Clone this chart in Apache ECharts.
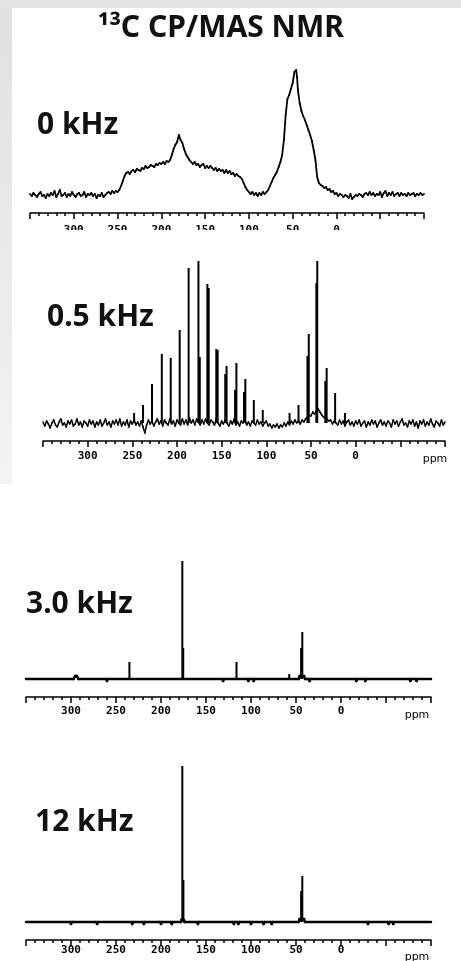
<!DOCTYPE html>
<html><head><meta charset="utf-8">
<script src="https://cdn.jsdelivr.net/npm/echarts@6/dist/echarts.min.js"></script>
<style>html,body{margin:0;padding:0;background:#fff}#c{width:461px;height:961px}</style>
</head><body><div id="c"></div>
<script>
// ---------- DATA ----------
const mainTitle = '\u00B9\u00B3C CP/MAS NMR';
const panelLabels = ['0 kHz', '0.5 kHz', '3.0 kHz', '12 kHz'];
const tickLabels = [300, 250, 200, 150, 100, 50, 0];
const unitLabel = 'ppm';

// 0 kHz : static spectrum [ppm, intensity]
const spec0 = [
 [350,1],[348,-1],[346,2],[344,0],[342,-2],[340,1],[338,3],[336,-1],[334,0],[332,-3],[330,1],[328,-1],[326,2],[324,0],[322,4],[320,-2],[318,1],[316,5],[314,-1],[312,0],[310,2],[308,-2],[306,1],[304,-1],[302,3],[300,0],[298,-2],[296,1],[294,2],[292,-1],[290,0],[288,3],[286,-2],[284,1],[282,0],[280,2],[278,-1],[276,1],[274,-3],[272,0],[270,-1],[268,2],[266,-2],[264,0],
 [262,2],[260,3],[258,1],[256,4],[254,2],[252,4],[250,3],[248,5],[246,9],[244,14],[242,19],
 [240,22],[238,23],[236,21],[234,24],[232,25],[230,23],[228,26],[226,25],[224,24],[222,27],[220,26],[218,29],[216,27],[214,28],[212,30],[210,29],[208,28],[206,31],[204,30],[202,32],[200,31],[198,33],[196,31],[194,34],[192,33],[190,35],
 [188,40],[186,46],[184,50],[182,53],[180,60],[178,55],[176,52],[174,46],[172,41],[170,38],[168,35],
 [166,33],[164,31],[162,33],[160,30],[158,31],[156,28],[154,30],[152,31],[150,27],[148,29],[146,27],[144,29],[142,27],[140,25],[138,27],[136,24],[134,26],[132,24],[130,25],[128,22],[126,25],[124,22],[122,24],[120,21],[118,22],[116,19],[114,21],[112,19],[110,18],[108,16],
 [106,12],[104,8],[102,5],[100,3],[98,1],[96,3],[94,0],[92,2],[90,-1],[88,2],[86,0],[84,3],[82,1],[80,3],[78,5],[76,9],[74,13],[72,17],[70,20],[68,23],[66,28],[64,33],[62,40],[60,55],[58,80],[56,96],[54,100],[52,106],[50,112],[48,123],[46,125],[45,118],[44,105],[42,92],[40,84],[38,79],[36,75],[34,70],[32,65],[30,60],[28,54],[26,45],[24,35],[22,18],[20,12],[18,10],[16,9],[14,7],[12,8],[10,5],[8,6],[6,3],[4,4],[2,1],[0,2],
 [-2,-1],[-4,1],[-6,0],[-8,-2],[-10,0],[-12,-1],[-14,-3],[-16,1],[-18,-4],[-20,-2],[-22,0],[-24,-1],[-26,1],[-28,0],[-30,-2],[-32,1],[-34,2],[-36,0],[-38,3],[-40,0],[-42,2],[-44,-1],[-46,1],[-48,0],[-50,3],[-52,-2],[-54,2],[-56,4],[-58,-1],[-60,2],[-62,0],[-64,3],[-66,-1],[-68,1],[-70,2],[-72,-1],[-74,2],[-76,0],[-78,1],[-80,-1],[-82,2],[-84,0],[-86,1],[-88,2],[-90,-1],[-92,1],[-94,0],[-96,2],[-98,0],[-100,1]
];

// 0.5 kHz : baseline noise and spinning-sideband lines
const noise05 = [
 [350,1],[348,-3],[346,2],[344,-1],[342,-5],[340,0],[338,3],[336,-2],[334,-4],[332,1],[330,4],[328,-2],[326,0],[324,-4],[322,2],[320,-1],[318,3],[316,-3],[314,-1],[312,4],[310,-2],[308,1],[306,-4],[304,2],[302,0],[300,-3],[298,3],[296,-1],[294,2],[292,-4],[290,1],[288,-2],[286,3],[284,-3],[282,0],[280,4],[278,-2],[276,1],[274,-4],[272,2],[270,-1],[268,3],[266,-2],[264,4],[262,-3],[260,1],[258,-2],[256,3],[254,-4],[252,2],[250,-1],
 [248,3],[246,-2],[244,1],[242,-3],[240,2],[238,-4],[236,-10],[234,-2],[232,3],[230,-1],[228,2],[226,-3],[224,1],[222,4],[220,-1],[218,2],[216,-3],[214,3],[212,0],[210,-2],[208,4],[206,-1],[204,2],[202,-3],[200,3],[198,0],[196,-2],[194,4],[192,-1],[190,3],[188,-2],[186,5],[184,0],[182,3],[180,-2],[178,4],[176,1],[174,-2],[172,3],[170,-1],[168,4],[166,0],[164,-2],[162,3],[160,1],[158,-2],[156,4],[154,0],[152,-3],[150,2],[148,-1],[146,3],[144,0],[142,-3],[140,2],[138,-1],[136,4],[134,-2],[132,1],[130,-3],[128,2],[126,0],[124,3],[122,-2],[120,1],[118,-3],[116,2],[114,0],[112,-2],[110,3],[108,-1],[106,1],[104,-3],[102,0],[100,2],
 [98,-3],[96,-1],[94,-5],[92,-2],[90,-4],[88,-1],[86,-5],[84,-2],[82,-4],[80,0],[78,-3],[76,1],[74,-2],[72,2],[70,-1],[68,3],[66,0],[64,2],[62,-1],[60,3],[58,1],[56,4],[54,6],[52,8],[50,7],[48,11],[46,9],[44,12],[42,14],[40,11],[38,8],[36,6],[34,5],[32,4],[30,2],[28,3],[26,-1],[24,2],[22,0],[20,-2],[18,3],[16,-1],[14,2],[12,-3],[10,1],[8,3],[6,-2],[4,1],[2,-3],[0,2],
 [-2,-1],[-4,3],[-6,-3],[-8,0],[-10,2],[-12,-4],[-14,1],[-16,-2],[-18,3],[-20,-1],[-22,2],[-24,-4],[-26,0],[-28,3],[-30,-2],[-32,1],[-34,-3],[-36,2],[-38,0],[-40,-4],[-42,3],[-44,-1],[-46,2],[-48,-3],[-50,1],[-52,4],[-54,-2],[-56,0],[-58,-4],[-60,2],[-62,-1],[-64,3],[-66,-3],[-68,1],[-70,-5],[-72,2],[-74,-1],[-76,3],[-78,-3],[-80,1],[-82,-2],[-84,4],[-86,-1],[-88,-4],[-90,2],[-92,0],[-94,-3],[-96,3],[-98,-2],[-100,1]
];
const peaks05 = [
 [248,10],[238,18],[228,39],[217,69],[207,65],[197,93],[187,155],[176,162],[174.5,66],[166,139],[164.5,135],[156,74],[154.5,73],[146,49],[144.5,57],[135,33],[133.5,60],[125,31],[123.5,44],[114,23],[104,13],
 [74,10],[64,18],[54,67],[52.5,89],[44,140],[43,162],[34,42],[32.5,55],[23,30],[12,10]
];

// 3.0 kHz
const base30 = [
 [350,0],[297,0],[295.5,3],[293.5,3],[292,0],[261,0],[260,-2],[259,0],[132,0],[131,-2],[130,0],[104,0],[103,-2],[102,0],[98,0],[97,-2],[96,0],[47,0],[46,3],[41,3],[40,0],[36,0],[35,-2],[34,0],[-16,0],[-17,-2],[-18,0],[-26,0],[-27,-2],[-28,0],[-76,0],[-77,-2],[-78,0],[-83,0],[-84,-2],[-85,0],[-100,0]
];
const peaks30 = [[235.1,17],[176.3,118],[175.3,31],[116.1,17],[57.5,5],[44.3,31],[43.0,47]];

// 12 kHz
const base12 = [
 [350,0],[301,0],[300,-2],[299,0],[272,0],[271,-2],[270,0],[233,0],[232,-2],[231,0],[220,0],[219,-2],[218,0],[201,0],[200,-2],[199,0],[189,0],[188,-2],[187,0],[178,0],[177.5,2],[174.5,2],[174,0],[160,0],[159,-2],[158,0],[120,0],[119,-2],[118,0],[115,0],[114,-2],[113,0],[101,0],[100,-2],[99,0],[87,0],[86,-2],[85,0],[78,0],[77,-2],[76,0],[47,0],[46,3],[41,3],[40,0],[-29,0],[-30,-2],[-31,0],[-52,0],[-53,-2],[-54,0],[-57,0],[-58,-2],[-59,0],[-100,0]
];
const peaks12 = [[176.3,156],[175.1,42],[44.3,31],[43.0,46]];

// ---------- LAYOUT ----------
const W = 461, H = 961;
const panels = [
  {left:30, right:37, axisY:213, top:60,  ymin:-18, labelMargin:12, barW:2, lw:1.8},
  {left:43, right:16, axisY:441, top:250, ymin:-18, labelMargin:10, barW:2, lw:1.5},
  {left:26, right:30, axisY:697, top:550, ymin:-18, labelMargin:9,  barW:2, lw:2.5},
  {left:26, right:30, axisY:940, top:755, ymin:-18, labelMargin:5,  barW:2, lw:2.5}
];

const grid = [], xAxis = [], yAxis = [];
panels.forEach((p, i) => {
  const h = p.axisY - p.top;
  grid.push({left:p.left, right:p.right, top:p.top, bottom:H - p.axisY, containLabel:false});
  xAxis.push({
    type:'value', gridIndex:i, inverse:true, min:-100, max:350, interval:50,
    axisLine:{onZero:false, lineStyle:{color:'#000', width:1.5}},
    axisTick:{show:true, inside:false, length:6, lineStyle:{color:'#000', width:1.5}},
    minorTick:{show:true, splitNumber:5, length:3, lineStyle:{color:'#000', width:1.5}},
    splitLine:{show:false}, minorSplitLine:{show:false},
    axisLabel:{margin:p.labelMargin, color:'#000', fontFamily:'DejaVu Sans Mono', fontWeight:'bold', fontSize:11,
      showMinLabel:true, showMaxLabel:true,
      formatter: v => tickLabels.indexOf(v) >= 0 ? String(v) : ''}
  });
  yAxis.push({type:'value', gridIndex:i, min:p.ymin, max:p.ymin + h, show:false});
});

// trace drawn segment by segment through the axis scales (no point thinning)
const traceSeries = (i, data, w) => ({
  type:'custom', xAxisIndex:i, yAxisIndex:i, data, silent:true, animation:false, z:3,
  encode:{x:0, y:1},
  renderItem: (params, api) => {
    const k = params.dataIndexInside;
    if (k === 0) return null;
    const a = api.coord([api.value(0, k - 1), api.value(1, k - 1)]);
    const b = api.coord([api.value(0, k), api.value(1, k)]);
    return {type:'line', shape:{x1:a[0], y1:a[1], x2:b[0], y2:b[1]},
      style:{stroke:'#000', lineWidth:w, lineCap:'round'}};
  }
});
const barSeries = (i, data, w) => ({
  type:'bar', xAxisIndex:i, yAxisIndex:i, data, barWidth:w,
  itemStyle:{color:'#000'}, silent:true, animation:false, z:4
});

const series = [
  traceSeries(0, spec0, panels[0].lw),
  traceSeries(1, noise05, panels[1].lw), barSeries(1, peaks05, panels[1].barW),
  traceSeries(2, base30, panels[2].lw),  barSeries(2, peaks30, panels[2].barW),
  traceSeries(3, base12, panels[3].lw),  barSeries(3, peaks12, panels[3].barW)
];

const titleFont = 'bold 30px "Noto Sans"';
const labelPos = [[37,125],[47,317],[26,604],[35,822]];
const unitPos = [[435,459],[417,715],[417,957]];

const graphic = [
  {type:'rect', shape:{x:0, y:0, width:W, height:8}, style:{fill:'#e3e3e3'}, z:0, silent:true},
  {type:'rect', shape:{x:0, y:8, width:12, height:476}, silent:true, z:0,
    style:{fill:new echarts.graphic.LinearGradient(0,0,0,1,[{offset:0,color:'#e0e0e0'},{offset:1,color:'#f3f3f3'}])}},
  // cover: the 0.5 kHz picture hides the lower part of the first axis labels
  {type:'rect', shape:{x:12, y:230, width:W-12, height:14}, style:{fill:'#ffffff'}, z:100, silent:true},
  {type:'text', z:101, style:{text:mainTitle, x:221, y:28, font:titleFont, fill:'#111', textAlign:'center', textVerticalAlign:'middle'}},
];
panelLabels.forEach((t, i) => {
  graphic.push({type:'text', z:101, style:{text:t, x:labelPos[i][0], y:labelPos[i][1], font:titleFont, fill:'#111', textAlign:'left', textVerticalAlign:'middle'}});
});
unitPos.forEach(p => {
  graphic.push({type:'text', z:101, style:{text:unitLabel, x:p[0], y:p[1], font:'11px "DejaVu Sans"', fill:'#000', textAlign:'center', textVerticalAlign:'middle'}});
});

const chart = echarts.init(document.getElementById('c'), null, {renderer:'canvas', width:W, height:H});
chart.setOption({backgroundColor:'#ffffff', animation:false, grid, xAxis, yAxis, series, graphic});
</script>
</body></html>
